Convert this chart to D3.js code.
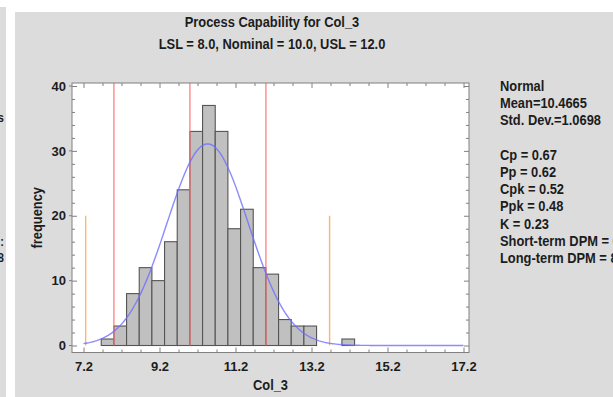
<!DOCTYPE html>
<html>
<head>
<meta charset="utf-8">
<title>Process Capability for Col_3</title>
<script src="https://d3js.org/d3.v7.min.js"></script>
<style>
  body { margin: 0; background: #fff; }
  svg text { font-family: "Liberation Sans", Arial, sans-serif; font-weight: bold; fill: #1c1c1c; }
</style>
</head>
<body>
<svg id="chart" width="613" height="397"></svg>
<script>
// histogram classes (lower edge) and counts
var binLower = [7.6667, 8.0, 8.3333, 8.6667, 9.0, 9.3333, 9.6667, 10.0, 10.3333, 10.6667,
                11.0, 11.3333, 11.6667, 12.0, 12.3333, 12.6667, 13.0, 13.3333, 13.6667, 14.0];
var counts   = [1, 3, 8, 12, 10, 16, 24, 33, 37, 33, 18, 21, 12, 11, 4, 3, 3, 0, 0, 1];
var binWidth = 1 / 3;

// spec limits and fitted normal
var specLimits = [8.0, 10.0, 12.0];   // LSL, nominal, USL
var fitMean = 10.4665, fitSd = 1.0698;

var xMajor = [7.2, 9.2, 11.2, 13.2, 15.2, 17.2];
var yMajor = [0, 10, 20, 30, 40];

var titleLines = ["Process Capability for Col_3", "LSL = 8.0, Nominal = 10.0, USL = 12.0"];
var statsLines = ["Normal", "Mean=10.4665", "Std. Dev.=1.0698", "",
                  "Cp = 0.67", "Pp = 0.62", "Cpk = 0.52", "Ppk = 0.48", "K = 0.23",
                  "Short-term DPM = 67120.2", "Long-term DPM = 86463.1"];

var svg = d3.select("#chart");

// frame / panel geometry
var frame = {left: 72, right: 469, top: 83, bottom: 352.5};

var x = d3.scaleLinear().domain([7.2, 17.2]).range([83.5, 463.5]);
var y = d3.scaleLinear().domain([0, 40]).range([345.5, 86]);

// narrow bold text like the original
function label(sel, tx, ty, txt, anchor, rot, size) {
    return sel.append("text")
        .attr("transform", "translate(" + tx + "," + ty + ")" + (rot ? " rotate(" + rot + ")" : "") + " scale(0.92,1)")
        .attr("text-anchor", anchor || "start")
        .style("font-size", (size || 14) + "px")
        .text(txt);
}

// background panels
svg.append("rect").attr("x", 0).attr("y", 7).attr("width", 6).attr("height", 390).attr("fill", "#dcdcdc");
svg.append("rect").attr("x", 15).attr("y", 12).attr("width", 598).attr("height", 385).attr("fill", "#dcdcdc");

// clipped text from neighbouring panel
svg.append("clipPath").attr("id", "leftclip").append("rect")
    .attr("x", 0).attr("y", 0).attr("width", 6).attr("height", 397);
var lg = svg.append("g").attr("clip-path", "url(#leftclip)");
[["s", 122], [":", 246], ["8", 262]].forEach(function(t) {
    label(lg, 4, t[1], t[0], "end", 0, 12);
});

// plot area
svg.append("rect")
    .attr("x", frame.left).attr("y", frame.top)
    .attr("width", frame.right - frame.left).attr("height", frame.bottom - frame.top)
    .attr("fill", "#fff");

// bars
var bins = binLower.map(function(b, i) { return {x0: b, x1: b + binWidth, n: counts[i]}; })
                   .filter(function(d) { return d.n > 0; });

svg.append("g").selectAll("rect")
    .data(bins)
    .enter().append("rect")
    .attr("x", function(d) { return x(d.x0); })
    .attr("y", function(d) { return y(d.n); })
    .attr("width", function(d) { return x(d.x1) - x(d.x0); })
    .attr("height", function(d) { return y(0) - y(d.n); })
    .attr("fill", "#c0c0c0")
    .attr("stroke", "#555555")
    .attr("stroke-width", 1.1);

// spec limit lines
svg.append("g").selectAll("line")
    .data(specLimits)
    .enter().append("line")
    .attr("x1", function(d) { return x(d); }).attr("x2", function(d) { return x(d); })
    .attr("y1", frame.top).attr("y2", y(0))
    .attr("stroke", "#ff6b6b").attr("stroke-opacity", 0.7).attr("stroke-width", 1.6);

// +/- 3 sigma lines
svg.append("g").selectAll("line")
    .data([fitMean - 3 * fitSd, fitMean + 3 * fitSd])
    .enter().append("line")
    .attr("x1", function(d) { return x(d); }).attr("x2", function(d) { return x(d); })
    .attr("y1", y(20)).attr("y2", y(0))
    .attr("stroke", "#ffb566").attr("stroke-width", 1.4);

// fitted normal curve
var total = d3.sum(counts);
function dens(v) {
    var z = (v - fitMean) / fitSd;
    return total * binWidth * Math.exp(-0.5 * z * z) / (fitSd * Math.sqrt(2 * Math.PI));
}
var curvePts = d3.range(7.2, 17.2001, 0.05).map(function(v) { return [v, dens(v)]; });
svg.append("path")
    .datum(curvePts)
    .attr("d", d3.line().x(function(d) { return x(d[0]); }).y(function(d) { return y(d[1]); }))
    .attr("fill", "none")
    .attr("stroke", "#6e6eff").attr("stroke-opacity", 0.8).attr("stroke-width", 1.4);

// frame
svg.append("rect")
    .attr("x", frame.left).attr("y", frame.top)
    .attr("width", frame.right - frame.left).attr("height", frame.bottom - frame.top)
    .attr("fill", "none").attr("stroke", "#808080").attr("stroke-width", 1);

// axes (ticks point inward)
var xMinor = d3.range(7.7, 17.3, 0.5).filter(function(v) { return Math.abs(((v - 7.2) / 2) % 1) > 0.01 && Math.abs(((v - 7.2) / 2) % 1) < 0.99; });
var yMinor = d3.range(2, 40, 2).filter(function(v) { return v % 10 !== 0; });

function styleAxis(g) {
    g.select(".domain").remove();
    g.selectAll(".tick line").attr("stroke", "#808080");
    g.selectAll("text").attr("fill", "#1c1c1c").style("font-size", "13px")
        .style("font-family", "'Liberation Sans', Arial, sans-serif").style("font-weight", "bold");
}

svg.append("g").attr("transform", "translate(0," + frame.bottom + ")")
    .call(d3.axisBottom(x).tickValues(xMajor).tickSize(-5).tickPadding(9).tickFormat(d3.format(".1f")))
    .call(styleAxis);
svg.append("g").attr("transform", "translate(0," + frame.bottom + ")")
    .call(d3.axisBottom(x).tickValues(xMinor).tickSize(-3).tickFormat(""))
    .call(styleAxis);
svg.append("g").attr("transform", "translate(0," + frame.top + ")")
    .call(d3.axisTop(x).tickValues(xMajor).tickSize(-5).tickFormat(""))
    .call(styleAxis);
svg.append("g").attr("transform", "translate(0," + frame.top + ")")
    .call(d3.axisTop(x).tickValues(xMinor).tickSize(-3).tickFormat(""))
    .call(styleAxis);

svg.append("g").attr("transform", "translate(" + frame.left + ",0)")
    .call(d3.axisLeft(y).tickValues(yMajor).tickSize(-5).tickPadding(6))
    .call(styleAxis);
svg.append("g").attr("transform", "translate(" + frame.left + ",0)")
    .call(d3.axisLeft(y).tickValues(yMinor).tickSize(-3).tickFormat(""))
    .call(styleAxis);
svg.append("g").attr("transform", "translate(" + frame.right + ",0)")
    .call(d3.axisRight(y).tickValues(yMajor).tickSize(-5).tickFormat(""))
    .call(styleAxis);
svg.append("g").attr("transform", "translate(" + frame.right + ",0)")
    .call(d3.axisRight(y).tickValues(yMinor).tickSize(-3).tickFormat(""))
    .call(styleAxis);

// outward stubs on the left major ticks
svg.append("g").selectAll("line")
    .data(yMajor)
    .enter().append("line")
    .attr("x1", frame.left - 3).attr("x2", frame.left)
    .attr("y1", function(d) { return y(d); }).attr("y2", function(d) { return y(d); })
    .attr("stroke", "#808080");

// titles
titleLines.forEach(function(t, i) {
    label(svg, 272, 27 + i * 22, t, "middle");
});

// axis titles
label(svg, (frame.left + frame.right) / 2, 390, "Col_3", "middle");
label(svg, 42, (frame.top + frame.bottom) / 2, "frequency", "middle", -90);

// stats panel
statsLines.forEach(function(t, i) {
    if (t) label(svg, 500, 91 + i * 17.2, t, "start");
});
</script>
</body>
</html>
